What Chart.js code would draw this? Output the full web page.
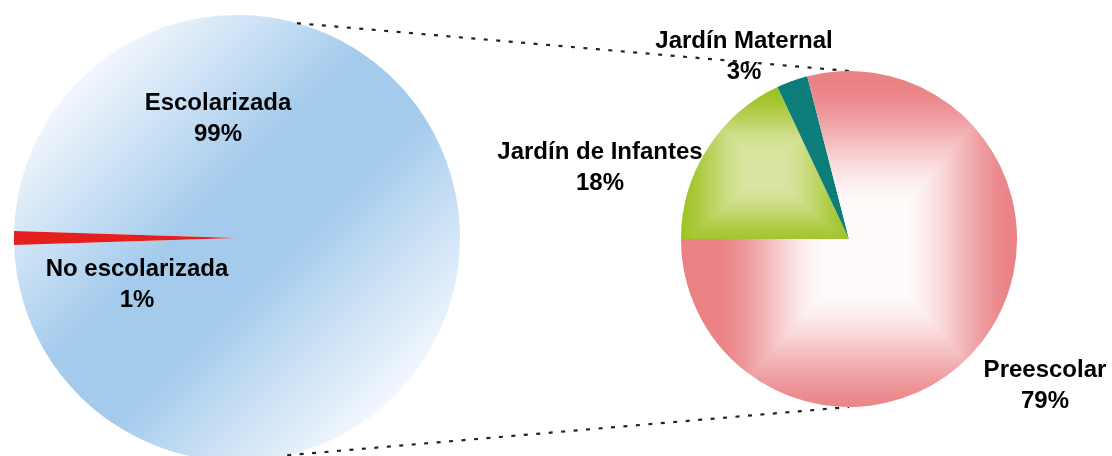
<!DOCTYPE html>
<html>
<head>
<meta charset="utf-8">
<script src="https://cdn.jsdelivr.net/npm/chart.js@4/dist/chart.umd.min.js"></script>
<style>
  html, body { margin: 0; padding: 0; background: #ffffff; overflow: hidden; }
  #wrap { position: relative; width: 1112px; height: 456px; overflow: hidden; background: #ffffff; }
  canvas { position: absolute; left: 0; top: 0; }
</style>
</head>
<body>
<div id="wrap">
  <canvas id="left" width="1112" height="476"></canvas>
  <canvas id="right" width="1112" height="456"></canvas>
</div>
<script>
// ---- data ----
const leftLabels = ['Escolarizada', 'No escolarizada'];
const leftValues = [99, 1];
const rightLabels = ['Jardín de Infantes', 'Jardín Maternal', 'Preescolar'];
const rightValues = [18, 3, 79];

// ---- label placement (text centres) ----
const leftLabelPos = [[218, 103, 134], [137, 269, 300]];
const rightLabelPos = [[600, 152, 183], [744, 41, 72], [1045, 370, 401]];

const FONT = 'bold 24px "Liberation Sans", Arial, sans-serif';

function pieGeom(chart) {
  const a = chart.chartArea;
  return { cx: (a.left + a.right) / 2, cy: (a.top + a.bottom) / 2, r: Math.min(a.right - a.left, a.bottom - a.top) / 2 };
}

function hexRgb(h) {
  return [parseInt(h.slice(1, 3), 16), parseInt(h.slice(3, 5), 16), parseInt(h.slice(5, 7), 16)];
}

// rectangular ("path") gradient, as a pattern in canvas coordinates
function boxPattern(chart, key, cx, cy, hw, hh, cIn, cOut, t0, t1) {
  chart.$pat = chart.$pat || {};
  if (chart.$pat[key]) return chart.$pat[key];
  const W = chart.canvas.width, H = chart.canvas.height;
  const off = document.createElement('canvas');
  off.width = W; off.height = H;
  const octx = off.getContext('2d');
  const img = octx.createImageData(W, H);
  const a = hexRgb(cIn), b = hexRgb(cOut);
  for (let y = 0; y < H; y++) {
    for (let x = 0; x < W; x++) {
      let t = Math.max(Math.abs(x - cx) / hw, Math.abs(y - cy) / hh);
      t = Math.min(1, Math.max(0, (t - t0) / (t1 - t0)));
      t = t * t * (3 - 2 * t);
      const i = (y * W + x) * 4;
      img.data[i] = a[0] + (b[0] - a[0]) * t;
      img.data[i + 1] = a[1] + (b[1] - a[1]) * t;
      img.data[i + 2] = a[2] + (b[2] - a[2]) * t;
      img.data[i + 3] = 255;
    }
  }
  octx.putImageData(img, 0, 0);
  const p = chart.ctx.createPattern(off, 'no-repeat');
  chart.$pat[key] = p;
  return p;
}

const labelPlugin = {
  id: 'pieLabels',
  afterDatasetsDraw(chart, args, opts) {
    const ctx = chart.ctx;
    const labels = chart.data.labels;
    const vals = chart.data.datasets[0].data;
    ctx.save();
    ctx.font = FONT;
    ctx.fillStyle = '#000000';
    ctx.textAlign = 'center';
    ctx.textBaseline = 'middle';
    labels.forEach((lab, i) => {
      const p = opts.positions[i];
      ctx.fillText(lab, p[0], p[1]);
      ctx.fillText(vals[i] + '%', p[0], p[2]);
    });
    ctx.restore();
  }
};

const leftChart = new Chart(document.getElementById('left'), {
  type: 'pie',
  data: {
    labels: leftLabels,
    datasets: [{
      data: leftValues,
      borderWidth: 0,
      backgroundColor(c) {
        const chart = c.chart;
        if (c.dataIndex === 1) return '#e3201f';
        if (!chart.chartArea) return '#a6cced';
        const g = pieGeom(chart);
        const d = g.r * 0.7071;
        const gr = chart.ctx.createLinearGradient(g.cx - d, g.cy - d, g.cx + d, g.cy + d);
        gr.addColorStop(0, '#f2f7fd');
        gr.addColorStop(0.4, '#a4cbec');
        gr.addColorStop(0.6, '#a4cbec');
        gr.addColorStop(1, '#f2f7fd');
        return gr;
      }
    }]
  },
  options: {
    responsive: false,
    animation: false,
    events: [],
    rotation: -88.2,
    layout: { padding: { left: 14, top: 15, right: 652, bottom: 15 } },
    plugins: {
      legend: { display: false },
      tooltip: { enabled: false },
      pieLabels: { positions: leftLabelPos }
    }
  },
  plugins: [labelPlugin]
});

const connectorPlugin = {
  id: 'connectors',
  beforeDatasetsDraw(chart) {
    const L = pieGeom(leftChart);
    const R = pieGeom(chart);
    const aTop = 15.6 * Math.PI / 180, aBot = 13 * Math.PI / 180;
    const ctx = chart.ctx;
    ctx.save();
    ctx.strokeStyle = '#222222';
    ctx.lineWidth = 2.2;
    ctx.setLineDash([4, 8.5]);
    ctx.beginPath();
    ctx.moveTo(L.cx + L.r * Math.sin(aTop), L.cy - L.r * Math.cos(aTop));
    ctx.lineTo(R.cx, R.cy - R.r);
    ctx.moveTo(L.cx + L.r * Math.sin(aBot), L.cy + L.r * Math.cos(aBot));
    ctx.lineTo(R.cx, R.cy + R.r);
    ctx.stroke();
    ctx.restore();
  }
};

new Chart(document.getElementById('right'), {
  type: 'pie',
  data: {
    labels: rightLabels,
    datasets: [{
      data: rightValues,
      borderWidth: 0,
      backgroundColor(c) {
        const chart = c.chart;
        const fallback = ['#b5d25a', '#0d7d7a', '#ef9a9c'][c.dataIndex];
        if (!chart.chartArea) return fallback;
        const g = pieGeom(chart);
        if (c.dataIndex === 1) return '#0d7d7a';
        if (c.dataIndex === 0) {
          return boxPattern(chart, 'green', g.cx - g.r * 0.5, g.cy - g.r * 0.42, g.r * 0.55, g.r * 0.5,
            '#dae5a2', '#9cc220', 0.15, 1.0);
        }
        return boxPattern(chart, 'pink', g.cx + g.r * 0.09, g.cy + g.r * 0.05, g.r * 1.0, g.r * 1.12,
          '#fffbfb', '#ea8184', 0.2, 0.92);
      }
    }]
  },
  options: {
    responsive: false,
    animation: false,
    events: [],
    rotation: -90,
    layout: { padding: { left: 681, top: 71, right: 95, bottom: 49 } },
    plugins: {
      legend: { display: false },
      tooltip: { enabled: false },
      pieLabels: { positions: rightLabelPos }
    }
  },
  plugins: [connectorPlugin, labelPlugin]
});
</script>
</body>
</html>
